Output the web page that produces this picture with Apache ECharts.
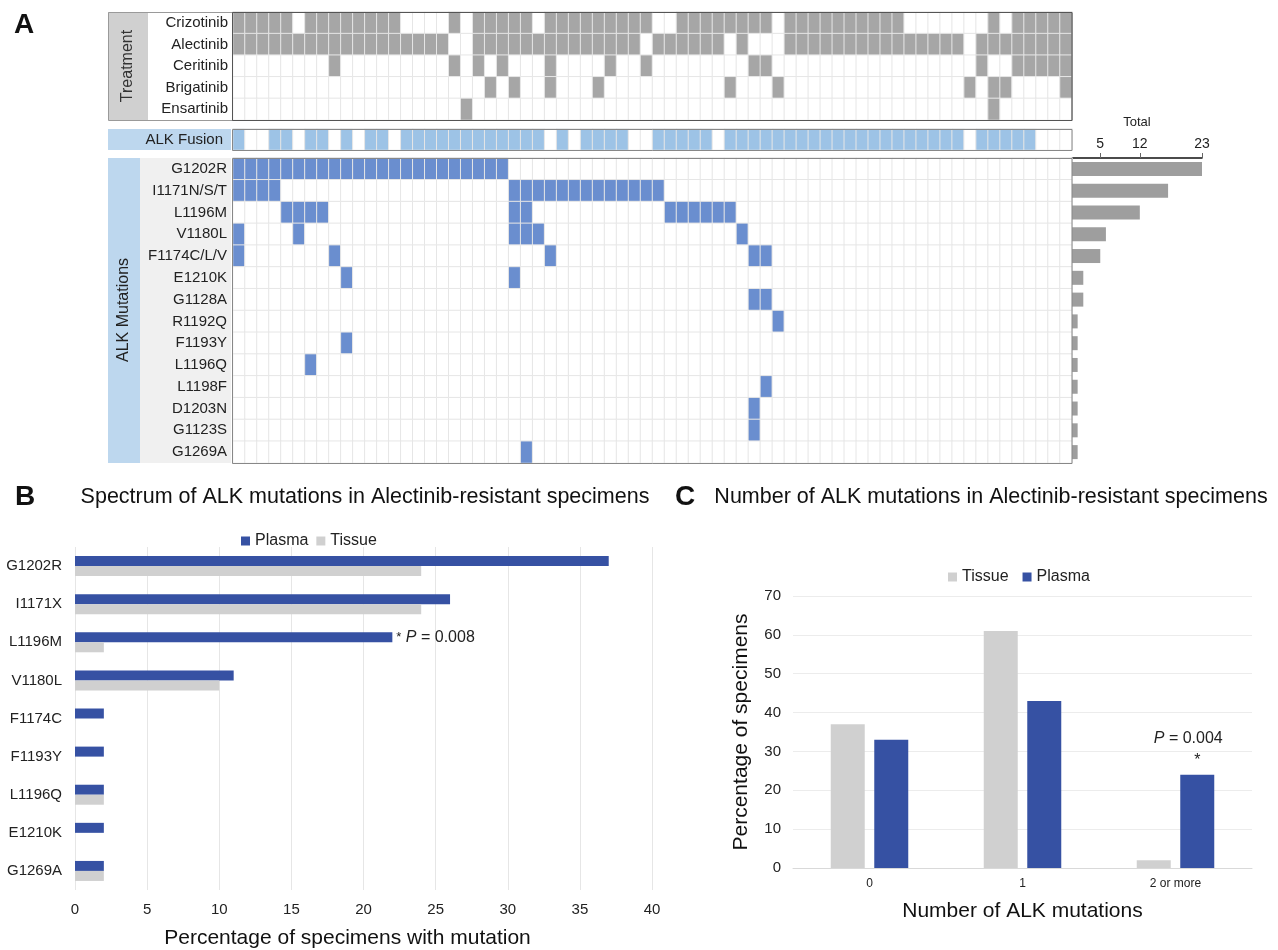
<!DOCTYPE html>
<html>
<head>
<meta charset="utf-8">
<title>ALK mutations in alectinib-resistant specimens</title>
<script src="https://cdn.jsdelivr.net/npm/echarts@6.0.0/dist/echarts.min.js"></script>
<style>
  html, body { margin: 0; padding: 0; background: #ffffff; }
  #chart { width: 1278px; height: 950px; }
</style>
</head>
<body>
<div id="chart"></div>
<script>
const FONT = '"Liberation Sans", Arial, Helvetica, sans-serif'

// ---- Panel A data (column = patient index, 0-based) ----
const patientCount = 70
const treatmentNames = ['Crizotinib', 'Alectinib', 'Ceritinib', 'Brigatinib', 'Ensartinib']
const crizotinibCols = [0, 1, 2, 3, 4, 6, 7, 8, 9, 10, 11, 12, 13, 18, 20, 21, 22, 23, 24,
  26, 27, 28, 29, 30, 31, 32, 33, 34, 37, 38, 39, 40, 41, 42, 43, 44,
  46, 47, 48, 49, 50, 51, 52, 53, 54, 55, 63, 65, 66, 67, 68, 69]
const alectinibCols = [0, 1, 2, 3, 4, 5, 6, 7, 8, 9, 10, 11, 12, 13, 14, 15, 16, 17,
  20, 21, 22, 23, 24, 25, 26, 27, 28, 29, 30, 31, 32, 33, 35, 36, 37, 38, 39, 40, 42,
  46, 47, 48, 49, 50, 51, 52, 53, 54, 55, 56, 57, 58, 59, 60, 62, 63, 64, 65, 66, 67, 68, 69]
const ceritinibCols = [8, 18, 20, 22, 26, 31, 34, 43, 44, 62, 65, 66, 67, 68, 69]
const brigatinibCols = [21, 23, 26, 30, 41, 45, 61, 63, 64, 69]
const ensartinibCols = [19, 63]

const fusionCols = [0, 3, 4, 6, 7, 9, 11, 12, 14, 15, 16, 17, 18, 19, 20, 21, 22, 23, 24, 25,
  27, 29, 30, 31, 32, 35, 36, 37, 38, 39, 41, 42, 43, 44, 45, 46, 47, 48, 49, 50,
  51, 52, 53, 54, 55, 56, 57, 58, 59, 60, 62, 63, 64, 65, 66]

const mutationNames = ['G1202R', 'I1171N/S/T', 'L1196M', 'V1180L', 'F1174C/L/V', 'E1210K', 'G1128A',
  'R1192Q', 'F1193Y', 'L1196Q', 'L1198F', 'D1203N', 'G1123S', 'G1269A']
const g1202rCols = [0, 1, 2, 3, 4, 5, 6, 7, 8, 9, 10, 11, 12, 13, 14, 15, 16, 17, 18, 19, 20, 21, 22]
const i1171Cols = [0, 1, 2, 3, 23, 24, 25, 26, 27, 28, 29, 30, 31, 32, 33, 34, 35]
const l1196mCols = [4, 5, 6, 7, 23, 24, 36, 37, 38, 39, 40, 41]
const v1180lCols = [0, 5, 23, 24, 25, 42]
const f1174Cols = [0, 8, 26, 43, 44]
const e1210kCols = [9, 23]
const g1128aCols = [43, 44]
const r1192qCols = [45]
const f1193yCols = [9]
const l1196qCols = [6]
const l1198fCols = [44]
const d1203nCols = [43]
const g1123sCols = [43]
const g1269aCols = [24]
const totalTicks = [5, 12, 23]

// ---- Panel B data ----
const bCategories = ['G1202R', 'I1171X', 'L1196M', 'V1180L', 'F1174C', 'F1193Y', 'L1196Q', 'E1210K', 'G1269A']
const bPlasma = [37, 26, 22, 11, 2, 2, 2, 2, 2]
const bTissue = [24, 24, 2, 10, 0, 0, 2, 0, 2]

// ---- Panel C data ----
const cCategories = ['0', '1', '2 or more']
const cTissue = [37, 61, 2]
const cPlasma = [33, 43, 24]

const PLASMA = '#3651a3'
const TISSUE = '#d0d0d0'

const patients = []
for (let i = 0; i < patientCount; i++) patients.push(String(i + 1))

const treatmentRows = [crizotinibCols, alectinibCols, ceritinibCols, brigatinibCols, ensartinibCols]
const mutationRows = [g1202rCols, i1171Cols, l1196mCols, v1180lCols, f1174Cols, e1210kCols, g1128aCols,
  r1192qCols, f1193yCols, l1196qCols, l1198fCols, d1203nCols, g1123sCols, g1269aCols]
const mutationTotals = mutationRows.map(r => r.length)

function toCells(rows) {
  const out = []
  rows.forEach((cols, r) => {
    for (let c = 0; c < patientCount; c++) out.push([c, r, cols.indexOf(c) >= 0 ? 1 : 0])
  })
  return out
}

function heatmapSeries(idx, data) {
  return {
    type: 'heatmap',
    xAxisIndex: idx,
    yAxisIndex: idx,
    data: data,
    itemStyle: { borderColor: '#e6e6e6', borderWidth: 1 },
    emphasis: { disabled: true }
  }
}

function hiddenCategoryX(idx) {
  return { type: 'category', gridIndex: idx, data: patients, show: false }
}

function labelY(idx, names, margin) {
  return {
    type: 'category', gridIndex: idx, data: names, inverse: true,
    axisLine: { show: false }, axisTick: { show: false },
    axisLabel: { fontSize: 15, color: '#222', fontFamily: FONT, margin: margin }
  }
}

const chart = echarts.init(document.getElementById('chart'))

const option = {
  animation: false,
  textStyle: { fontFamily: FONT },
  grid: [
    { left: 233, top: 12, width: 839, height: 108 },
    { left: 233, top: 129, width: 839, height: 21 },
    { left: 233, top: 158, width: 839, height: 305 },
    { left: 1072, top: 158, width: 130, height: 305 },
    { left: 75, top: 547, width: 577, height: 346 },
    { left: 793, top: 596, width: 459, height: 272 }
  ],
  xAxis: [
    hiddenCategoryX(0),
    hiddenCategoryX(1),
    hiddenCategoryX(2),
    {
      type: 'value', gridIndex: 3, position: 'top', min: 0, max: 23,
      name: 'Total', nameLocation: 'middle', nameGap: 29,
      nameTextStyle: { fontSize: 13, color: '#222', fontFamily: FONT },
      axisLine: { show: true, lineStyle: { color: '#111', width: 1.5 } },
      axisTick: { show: true, customValues: totalTicks, length: 5, lineStyle: { color: '#666' } },
      axisLabel: { customValues: totalTicks, fontSize: 14, color: '#222', margin: 7, fontFamily: FONT },
      splitLine: { show: false }
    },
    {
      type: 'value', gridIndex: 4, min: 0, max: 40, interval: 5,
      name: 'Percentage of specimens with mutation', nameLocation: 'middle', nameGap: 38,
      nameTextStyle: { fontSize: 21, color: '#111', fontFamily: FONT, padding: [0, 32, 0, 0] },
      axisLine: { show: false }, axisTick: { show: false },
      axisLabel: { fontSize: 15, color: '#222', margin: 12, fontFamily: FONT },
      splitLine: { lineStyle: { color: '#e6e6e6' } }
    },
    {
      type: 'category', gridIndex: 5, data: cCategories,
      name: 'Number of ALK mutations', nameLocation: 'middle', nameGap: 33,
      nameTextStyle: { fontSize: 21, color: '#111', fontFamily: FONT },
      axisLine: { lineStyle: { color: '#d9d9d9' } }, axisTick: { show: false },
      axisLabel: { fontSize: 12, color: '#222', margin: 10, fontFamily: FONT }
    }
  ],
  yAxis: [
    labelY(0, treatmentNames, 5),
    labelY(1, ['ALK Fusion'], 10),
    labelY(2, mutationNames, 6),
    { type: 'category', gridIndex: 3, data: mutationNames, inverse: true, show: false },
    {
      type: 'category', gridIndex: 4, data: bCategories, inverse: true,
      axisLine: { show: false }, axisTick: { show: false },
      axisLabel: { fontSize: 15, color: '#222', margin: 13, fontFamily: FONT }
    },
    {
      type: 'value', gridIndex: 5, min: 0, max: 70, interval: 10,
      name: 'Percentage of specimens', nameLocation: 'middle', nameGap: 41, nameRotate: 90,
      nameTextStyle: { fontSize: 21, color: '#111', fontFamily: FONT },
      axisLine: { show: false }, axisTick: { show: false },
      axisLabel: { fontSize: 15, color: '#222', margin: 12, fontFamily: FONT },
      splitLine: { lineStyle: { color: '#ececec' } }
    }
  ],
  visualMap: [
    { type: 'piecewise', show: false, seriesIndex: 0, dimension: 2,
      pieces: [{ value: 0, color: '#ffffff' }, { value: 1, color: '#a6a6a6' }] },
    { type: 'piecewise', show: false, seriesIndex: 1, dimension: 2,
      pieces: [{ value: 0, color: '#ffffff' }, { value: 1, color: '#9dc3e6' }] },
    { type: 'piecewise', show: false, seriesIndex: 2, dimension: 2,
      pieces: [{ value: 0, color: '#ffffff' }, { value: 1, color: '#6a8ecf' }] }
  ],
  legend: [
    {
      data: ['Plasma', 'Tissue'], left: 236, top: 528, icon: 'rect',
      itemWidth: 9, itemHeight: 9, itemGap: 8, selectedMode: false,
      textStyle: { fontSize: 16, color: '#222', fontFamily: FONT }
    },
    {
      data: ['Tissue', 'Plasma'], left: 943, top: 564, icon: 'rect',
      itemWidth: 9, itemHeight: 9, itemGap: 14, selectedMode: false,
      textStyle: { fontSize: 16, color: '#222', fontFamily: FONT }
    }
  ],
  series: [
    heatmapSeries(0, toCells(treatmentRows)),
    heatmapSeries(1, toCells([fusionCols])),
    heatmapSeries(2, toCells(mutationRows)),
    {
      type: 'bar', xAxisIndex: 3, yAxisIndex: 3, data: mutationTotals,
      barWidth: 14, itemStyle: { color: '#9e9e9e' }, emphasis: { disabled: true }
    },
    {
      name: 'Plasma', type: 'bar', xAxisIndex: 4, yAxisIndex: 4,
      barWidth: 10, barGap: '0%', itemStyle: { color: PLASMA },
      emphasis: { disabled: true },
      data: bPlasma.map((v, i) => bCategories[i] !== 'L1196M' ? v : {
        value: v,
        label: {
          show: true, position: 'right', distance: 4, color: '#222', fontSize: 16,
          formatter: '{s|*} {i|P} = 0.008',
          rich: { s: { fontSize: 13, color: '#222' }, i: { fontStyle: 'italic', fontSize: 16, color: '#222' } }
        }
      })
    },
    {
      name: 'Tissue', type: 'bar', xAxisIndex: 4, yAxisIndex: 4,
      barWidth: 10, barGap: '0%', itemStyle: { color: TISSUE },
      emphasis: { disabled: true }, data: bTissue
    },
    {
      name: 'Tissue', type: 'bar', xAxisIndex: 5, yAxisIndex: 5,
      barWidth: 34, barGap: '28%', itemStyle: { color: TISSUE },
      emphasis: { disabled: true }, data: cTissue
    },
    {
      name: 'Plasma', type: 'bar', xAxisIndex: 5, yAxisIndex: 5,
      barWidth: 34, barGap: '28%', itemStyle: { color: PLASMA },
      emphasis: { disabled: true },
      data: cPlasma.map((v, i) => cCategories[i] !== '2 or more' ? v : {
        value: v,
        label: {
          show: true, position: 'top', distance: 3, color: '#222', fontSize: 16, lineHeight: 22,
          formatter: '{i|P}{a| = 0.004}\n*',
          rich: {
            i: { fontStyle: 'italic', fontSize: 16, lineHeight: 22, color: '#222' },
            a: { fontSize: 16, lineHeight: 22, color: '#222', padding: [0, 18, 0, 0] }
          }
        }
      })
    }
  ],
  graphic: [
    // label backgrounds, panel A
    { type: 'rect', z: 0, shape: { x: 108, y: 12, width: 40, height: 108 }, style: { fill: '#d0d0d0' } },
    { type: 'rect', z: 0, shape: { x: 108, y: 129, width: 123, height: 21 }, style: { fill: '#bdd7ee' } },
    { type: 'rect', z: 0, shape: { x: 108, y: 158, width: 32, height: 305 }, style: { fill: '#bdd7ee' } },
    { type: 'rect', z: 0, shape: { x: 140, y: 158, width: 91, height: 305 }, style: { fill: '#f0f0f0' } },
    // borders
    { type: 'rect', z: 100, shape: { x: 108.5, y: 12.5, width: 963.5, height: 108 },
      style: { fill: 'none', stroke: '#9a9a9a', lineWidth: 1 } },
    { type: 'rect', z: 100, shape: { x: 232.5, y: 12.5, width: 839.5, height: 108 },
      style: { fill: 'none', stroke: '#555', lineWidth: 1 } },
    { type: 'rect', z: 100, shape: { x: 232.5, y: 129.5, width: 839.5, height: 21 },
      style: { fill: 'none', stroke: '#888', lineWidth: 1 } },
    { type: 'rect', z: 100, shape: { x: 232.5, y: 158.5, width: 839.5, height: 305 },
      style: { fill: 'none', stroke: '#888', lineWidth: 1 } },
    // rotated group labels
    { type: 'text', z: 100, x: 128, y: 66, rotation: Math.PI / 2,
      style: { text: 'Treatment', fontSize: 16, fontFamily: FONT, fill: '#333', align: 'center', verticalAlign: 'middle' } },
    { type: 'text', z: 100, x: 124, y: 310, rotation: Math.PI / 2,
      style: { text: 'ALK Mutations', fontSize: 16, fontFamily: FONT, fill: '#222', align: 'center', verticalAlign: 'middle' } },
    // panel letters and titles
    { type: 'text', x: 24, y: 25,
      style: { text: 'A', fontSize: 28, fontWeight: 'bold', fontFamily: FONT, fill: '#111', align: 'center', verticalAlign: 'middle' } },
    { type: 'text', x: 25, y: 497,
      style: { text: 'B', fontSize: 28, fontWeight: 'bold', fontFamily: FONT, fill: '#111', align: 'center', verticalAlign: 'middle' } },
    { type: 'text', x: 685, y: 497,
      style: { text: 'C', fontSize: 28, fontWeight: 'bold', fontFamily: FONT, fill: '#111', align: 'center', verticalAlign: 'middle' } },
    { type: 'text', x: 365, y: 497,
      style: { text: 'Spectrum of ALK mutations in Alectinib-resistant specimens', fontSize: 21.5, fontFamily: FONT,
        fill: '#111', align: 'center', verticalAlign: 'middle' } },
    { type: 'text', x: 991, y: 497,
      style: { text: 'Number of ALK mutations in Alectinib-resistant specimens', fontSize: 21.5, fontFamily: FONT,
        fill: '#111', align: 'center', verticalAlign: 'middle' } }
  ]
}

chart.setOption(option)

window.addEventListener('resize', () => {
  chart.resize()
})
</script>
</body>
</html>
